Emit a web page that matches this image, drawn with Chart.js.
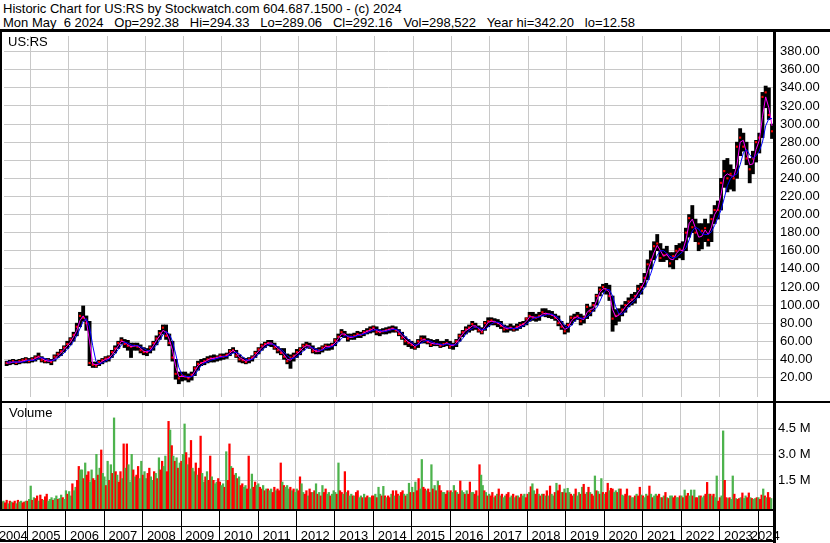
<!DOCTYPE html>
<html lang="en">
<head>
<meta charset="UTF-8" />
<title>Historic Chart for US:RS</title>
<script src="https://cdn.jsdelivr.net/npm/chart.js"></script>
<style>
  html, body { margin: 0; padding: 0; background: #fff; }
  #page {
    position: relative; width: 830px; height: 543px; overflow: hidden;
    font-family: "Liberation Sans", Arial, sans-serif; font-size: 13px; color: #000;
  }
  .txt { position: absolute; white-space: pre; line-height: 14px; }
  .rule { position: absolute; background: #000; }
  canvas { position: absolute; left: 0; }
</style>
</head>
<body>
<div id="page">
  <div class="txt" style="left:3px;top:2px">Historic Chart for US:RS by Stockwatch.com 604.687.1500 - (c) 2024</div>
  <div class="txt" style="left:3px;top:16px">Mon May  6 2024   Op=292.38   Hi=294.33   Lo=289.06   Cl=292.16   Vol=298,522   Year hi=342.20   lo=12.58</div>

  <canvas id="priceChart" width="830" height="369" style="top:32px"></canvas>
  <canvas id="volumeChart" width="830" height="140" style="top:403px"></canvas>

  <div class="txt" style="left:8px;top:35px">US:RS</div>
  <div class="txt" style="left:9px;top:406px">Volume</div>

  <!-- frame lines -->
  <div class="rule" style="left:0;top:29px;width:830px;height:3px"></div>
  <div class="rule" style="left:0;top:32px;width:2px;height:479px"></div>
  <div class="rule" style="left:0;top:401px;width:830px;height:2px"></div>
  <div class="rule" style="left:773px;top:32px;width:3px;height:511px"></div>
  <div class="rule" style="left:0;top:509px;width:776px;height:2px"></div>
  <div class="rule" style="left:0;top:526px;width:776px;height:1px"></div>
  <div class="rule" style="left:0;top:540px;width:776px;height:2px"></div>
</div>

<script>
// monthly bars, May 2004 .. May 2024
const priceLow = [
  33, 34, 35, 34, 35, 36, 36, 36, // 2004
  37, 38, 40, 37, 36, 36, 34, 38, 42, 44, 48, 52,
  56, 60, 66, 76, 82, 72, 33, 31, 31, 33, 35, 37,
  38, 42, 47, 52, 57, 53, 50, 42, 50, 50, 47, 45,
  44, 47, 50, 56, 62, 68, 62, 55, 38, 18, 13, 16,
  17, 15, 17, 22, 28, 33, 34, 36, 37, 37, 38, 39,
  40, 41, 44, 47, 42, 37, 36, 35, 36, 38, 42, 46,
  50, 53, 55, 54, 51, 47, 45, 40, 35, 30, 38, 42,
  45, 50, 53, 52, 47, 46, 46, 48, 50, 50, 51, 55,
  60, 65, 64, 60, 62, 62, 64, 64, 66, 68, 69, 70,
  67, 66, 68, 68, 69, 70, 70, 66, 62, 56, 54, 52,
  51, 53, 58, 58, 57, 54, 55, 55, 53, 54, 55, 52,
  51, 54, 60, 65, 68, 70, 72, 73, 70, 68, 72, 76,
  78, 78, 76, 74, 70, 70, 72, 71, 72, 74, 76, 78,
  82, 83, 82, 83, 88, 87, 86, 85, 83, 77, 73, 68,
  70, 78, 82, 84, 78, 80, 85, 88, 93, 100, 110, 114,
  112, 105, 71, 78, 82, 88, 92, 98, 100, 102, 108, 112,
  120, 128, 140, 150, 160, 148, 148, 150, 142, 140, 150, 152,
  150, 160, 175, 180, 170, 160, 162, 170, 165, 170, 190, 195,
  205, 230, 225, 228, 226, 240, 265, 270, 255, 235, 245, 258,
  268, 285, 318, 305, 284 // 2024
]
const priceHigh = [
  38, 39, 40, 39, 40, 41, 42, 41,
  42, 44, 47, 43, 41, 41, 40, 45, 48, 51, 55, 60,
  64, 70, 80, 92, 99, 88, 82, 37, 37, 39, 41, 43,
  44, 50, 55, 60, 64, 62, 61, 58, 58, 58, 56, 53,
  52, 55, 60, 66, 72, 78, 78, 68, 60, 40, 26, 26,
  26, 24, 26, 32, 38, 40, 41, 43, 44, 45, 44, 46,
  46, 47, 51, 53, 50, 45, 42, 41, 42, 44, 49, 53,
  57, 59, 61, 61, 58, 54, 52, 52, 46, 45, 47, 51,
  53, 57, 59, 58, 55, 52, 53, 55, 57, 57, 58, 63,
  68, 73, 71, 68, 68, 69, 71, 70, 72, 74, 76, 77,
  76, 73, 74, 75, 76, 77, 76, 73, 70, 65, 62, 60,
  58, 62, 66, 66, 63, 62, 61, 62, 60, 60, 62, 60,
  58, 62, 68, 72, 76, 78, 82, 80, 77, 75, 82, 86,
  86, 85, 84, 82, 78, 77, 79, 77, 79, 81, 82, 86,
  92, 92, 90, 92, 96, 96, 94, 93, 90, 88, 82, 78,
  80, 88, 90, 92, 90, 88, 101, 98, 103, 112, 120, 123,
  124, 122, 110, 95, 96, 100, 104, 108, 112, 114, 122, 124,
  135, 150, 160, 170, 178, 168, 162, 165, 158, 158, 166, 168,
  170, 185, 200, 210, 195, 190, 190, 195, 190, 200, 210, 215,
  240, 260, 262, 255, 250, 280, 295, 290, 280, 262, 270, 282,
  290, 335, 342, 340, 300
]
const priceClose = [
  36, 37, 38, 36, 38, 39, 40, 38,
  40, 42, 43, 39, 38, 39, 37, 43, 46, 49, 53, 57,
  62, 67, 76, 88, 86, 80, 36, 34, 33, 37, 39, 41,
  42, 48, 52, 58, 61, 57, 55, 54, 55, 54, 50, 48,
  48, 53, 58, 63, 69, 75, 66, 58, 42, 24, 19, 22,
  21, 19, 23, 30, 35, 36, 38, 40, 41, 41, 42, 44,
  43, 45, 49, 50, 44, 40, 39, 37, 40, 42, 47, 51,
  55, 57, 58, 57, 53, 50, 47, 43, 38, 42, 44, 48,
  51, 55, 56, 54, 49, 49, 50, 53, 55, 54, 56, 61,
  65, 70, 67, 63, 65, 66, 68, 67, 70, 71, 73, 75,
  70, 70, 71, 72, 73, 74, 72, 68, 64, 60, 58, 56,
  53, 60, 63, 62, 59, 56, 58, 57, 55, 57, 58, 54,
  56, 60, 66, 70, 73, 75, 79, 76, 72, 70, 80, 82,
  83, 81, 80, 77, 73, 74, 75, 73, 76, 78, 79, 85,
  88, 86, 86, 88, 92, 90, 90, 89, 86, 80, 76, 71,
  78, 86, 86, 88, 82, 86, 98, 93, 100, 110, 117, 120,
  117, 110, 85, 88, 90, 95, 100, 104, 106, 110, 118, 120,
  130, 145, 150, 165, 168, 152, 155, 156, 146, 154, 160, 162,
  160, 180, 196, 186, 180, 168, 182, 185, 172, 195, 205, 205,
  235, 248, 240, 245, 240, 275, 285, 275, 262, 250, 262, 280,
  285, 330, 335, 310, 292
]
// magenta (short) and blue (long) averages as drawn
const maShort = [
  36, 36, 37, 37, 37, 38, 39, 39,
  39, 41, 43, 41, 39, 38, 38, 40, 44, 47, 51, 55,
  59, 65, 72, 83, 88, 82, 60, 35, 34, 35, 38, 40,
  41, 45, 50, 55, 60, 59, 56, 54, 55, 55, 52, 49,
  48, 50, 55, 61, 66, 72, 70, 62, 50, 32, 21, 21,
  21, 20, 21, 27, 33, 36, 37, 39, 41, 41, 42, 43,
  43, 44, 47, 50, 47, 42, 40, 38, 39, 41, 45, 49,
  53, 56, 58, 58, 55, 52, 49, 45, 40, 39, 43, 46,
  49, 53, 55, 55, 51, 49, 49, 51, 54, 54, 55, 58,
  63, 68, 68, 65, 64, 65, 67, 67, 69, 71, 72, 74,
  72, 70, 71, 72, 73, 74, 73, 70, 66, 62, 59, 57,
  54, 57, 61, 62, 60, 58, 57, 57, 56, 56, 58, 56,
  55, 58, 63, 68, 72, 74, 77, 77, 74, 71, 76, 81,
  82, 82, 80, 78, 75, 74, 75, 74, 75, 77, 79, 82,
  87, 87, 86, 87, 90, 91, 90, 89, 87, 83, 78, 73,
  75, 82, 86, 87, 85, 84, 92, 95, 96, 105, 114, 118,
  118, 114, 95, 87, 89, 93, 98, 102, 105, 108, 114, 119,
  126, 138, 148, 158, 166, 160, 154, 156, 151, 150, 157, 161,
  160, 172, 190, 195, 185, 175, 176, 183, 178, 186, 200, 206,
  222, 242, 245, 243, 242, 255, 280, 282, 268, 255, 256, 272,
  282, 308, 330, 318, 298
]
const maLong = [
  37, 37, 37, 37, 37, 37, 38, 39,
  39, 39, 41, 42, 41, 39, 39, 39, 41, 44, 47, 51,
  55, 60, 66, 74, 82, 85, 76, 55, 38, 35, 36, 38,
  40, 42, 46, 51, 56, 59, 58, 56, 55, 55, 54, 52,
  50, 49, 52, 56, 61, 67, 71, 68, 60, 46, 31, 23,
  21, 21, 21, 23, 28, 33, 36, 37, 39, 40, 41, 42,
  43, 43, 45, 47, 48, 46, 43, 40, 39, 40, 42, 46,
  50, 53, 56, 57, 56, 54, 51, 48, 44, 41, 41, 43,
  46, 49, 52, 54, 53, 51, 50, 50, 52, 53, 54, 56,
  59, 63, 66, 66, 65, 65, 66, 67, 68, 69, 71, 72,
  73, 72, 71, 71, 72, 73, 73, 72, 69, 65, 62, 59,
  56, 56, 58, 60, 61, 60, 58, 57, 57, 56, 57, 57,
  56, 56, 59, 63, 68, 72, 74, 76, 75, 73, 73, 76,
  79, 81, 81, 80, 77, 75, 74, 74, 74, 75, 77, 79,
  82, 85, 86, 87, 88, 89, 90, 90, 88, 86, 82, 77,
  75, 77, 82, 85, 86, 85, 87, 90, 94, 97, 104, 112,
  117, 117, 110, 98, 90, 90, 93, 98, 102, 105, 109, 114,
  119, 126, 135, 146, 155, 160, 160, 157, 154, 152, 153, 156,
  159, 163, 172, 182, 186, 184, 179, 178, 178, 181, 188, 196,
  205, 218, 232, 240, 243, 245, 255, 268, 272, 266, 262, 265,
  270, 280, 298, 306, 306
]

// volume in millions, two bars per month, May 2004 .. early May 2024
const volume = [
  0.25, 0.3, 0.2, 0.35, 0.15, 0.3, 0.25, 0.2, 0.3, 0.15, 0.35, 0.25, 0.3, 0.2, 0.25, 0.3,
  0.3, 0.4, 1.17, 0.35, 0.5, 0.45, 0.6, 0.3, 0.65, 0.4, 0.35, 0.55, 0.7, 0.3, 0.4, 0.5, 0.35, 0.45, 0.6, 0.4, 0.45, 0.65, 0.5, 0.4,
  0.9, 0.7, 0.85, 0.6, 1.3, 0.9, 1.1, 1.5, 2.3, 2.1, 2.1, 1.6, 2.5, 1.8, 2.0, 1.4, 2.1, 1.6, 1.5, 3.0, 1.8, 2.2, 3.25, 1.9,
  1.7, 1.2, 2.6, 1.5, 2.4, 1.9, 5.1, 2.0, 1.8, 1.4, 2.0, 1.6, 3.6, 2.2, 3.6, 2.4, 1.4, 3.0, 2.1, 1.7, 1.8, 2.3, 1.6, 2.6,
  1.8, 2.0, 1.6, 1.9, 2.2, 1.7, 1.5, 2.0, 1.9, 1.6, 2.8, 2.1, 2.6, 2.3, 2.9, 2.0, 4.9, 4.4, 3.5, 2.9, 2.6, 2.8, 2.2, 2.5,
  2.6, 3.0, 4.75, 3.1, 2.4, 2.8, 3.8, 2.2, 2.0, 2.5, 1.8, 2.2, 4.05, 1.9, 1.4, 1.7, 2.0, 1.5, 2.9, 1.7, 1.5, 1.3, 1.4, 1.6,
  1.4, 1.2, 1.3, 1.1, 3.15, 1.5, 3.6, 2.3, 2.2, 1.8, 1.9, 1.6, 1.7, 1.2, 1.3, 1.1, 1.2, 1.0, 2.9, 1.0, 1.86, 1.1, 1.4, 1.2,
  1.3, 1.1, 1.0, 1.2, 0.9, 1.0, 1.0, 0.9, 1.0, 0.8, 1.1, 0.9, 1.0, 0.9, 2.5, 1.4, 1.2, 1.1, 1.2, 1.0, 1.1, 0.9, 1.0, 0.8,
  1.0, 0.9, 1.7, 1.3, 0.8, 0.7, 0.9, 0.6, 1.0, 0.8, 0.8, 0.9, 1.3, 0.7, 0.8, 0.6, 1.2, 0.8, 1.0, 0.7, 0.8, 0.6, 0.7, 0.9,
  0.8, 0.7, 2.5, 0.9, 0.8, 0.7, 2.0, 0.8, 0.9, 0.6, 0.7, 0.6, 0.6, 0.8, 0.9, 0.5, 0.6, 0.5, 0.7, 0.5, 0.6, 0.5, 0.5, 0.6,
  0.6, 0.7, 0.5, 1.1, 0.7, 0.6, 1.15, 0.6, 0.5, 0.6, 0.5, 0.7, 0.9, 0.6, 0.9, 0.7, 0.6, 0.8, 0.9, 0.7, 0.6, 0.7, 1.33, 0.8,
  1.1, 0.8, 1.4, 0.9, 1.6, 1.0, 2.7, 1.1, 1.0, 0.9, 1.0, 0.8, 2.4, 1.0, 1.2, 0.9, 1.46, 1.2, 0.9, 0.8, 0.8, 0.7, 0.9, 0.8,
  0.9, 0.8, 1.2, 0.9, 0.8, 0.7, 1.46, 0.9, 0.8, 0.7, 0.9, 0.7, 1.4, 0.8, 0.8, 0.7, 0.9, 0.6, 2.4, 1.8, 1.2, 0.9, 0.8, 0.6,
  0.7, 0.6, 0.8, 0.5, 0.6, 0.7, 1.0, 0.6, 0.7, 0.5, 0.6, 0.7, 0.8, 0.5, 0.6, 0.7, 0.5, 0.6, 0.6, 0.5, 0.7, 0.6, 0.7, 0.5,
  0.7, 0.8, 1.13, 1.3, 0.9, 0.7, 1.0, 0.7, 0.6, 0.7, 0.7, 0.6, 0.9, 0.6, 1.17, 0.7, 0.6, 0.8, 1.33, 0.9, 1.23, 0.8, 0.8, 1.0,
  0.77, 1.04, 0.8, 0.7, 0.6, 0.7, 1.0, 0.6, 0.8, 0.7, 1.1, 1.27, 0.7, 0.8, 1.1, 0.8, 0.7, 0.6, 1.75, 0.9, 0.85, 0.7, 1.6, 0.8,
  0.7, 0.8, 1.33, 0.9, 1.04, 1.0, 0.8, 0.9, 0.8, 1.0, 1.0, 0.65, 0.6, 0.7, 1.0, 0.6, 0.6, 0.5, 0.5, 0.6, 0.7, 0.6, 1.1, 0.65,
  0.6, 0.5, 0.7, 0.6, 1.17, 0.7, 0.5, 0.6, 0.7, 0.6, 0.7, 0.5, 0.5, 0.6, 0.8, 0.5, 0.45, 0.6, 0.6, 0.5, 0.6, 0.5, 0.5, 0.6,
  0.6, 0.5, 0.94, 0.6, 0.75, 0.6, 0.94, 0.6, 0.94, 0.5, 0.5, 0.6, 0.6, 0.5, 0.6, 0.7, 1.38, 0.7, 0.7, 0.6, 0.7, 0.5, 1.75, 0.3,
  0.5, 0.6, 4.35, 1.5, 0.5, 0.45, 0.5, 0.4, 1.75, 0.7, 0.45, 0.4, 0.45, 0.5, 0.77, 0.45, 0.6, 0.5, 0.77, 0.5, 0.45, 0.4, 0.45, 0.5,
  0.5, 0.4, 0.65, 1.0, 0.6, 0.5, 0.8, 0.5, 0.45
]
// g = up period, r = down period
const volumeDir = [
  'rgrrgrgrrgrggrrg',
  'rggrgrrgrrgrrgggrggrggrg',
  'grggrggrrggrgrrggrrgrgrg',
  'grgrgrgrgrrgrgrgggrgrrgg',
  'rggrrggrgrgrrggrrgrgrgrg',
  'rggrgrrggrgrrggrgrrgrggr',
  'rggrgrrgrrgrgrrggrrggrrg',
  'grrgrgrggrrgrrrgrgggrgrg',
  'grrggrrgrrgrgrgrgrrggrgg',
  'grgrrgrgrggrgrrggrgrrggr',
  'rgrggrgrgrrgrgrrgrrgrggr',
  'grgrrggrrgrrgrgrgrrggrrg',
  'rggrgrrggrgrrggrrgrggrgr',
  'grrgrgrgrggrrggrgrgrrggr',
  'rgrggrrgrgrgrgrggrgrrgrg',
  'rggrrgrggrgrrgrgrrgrgrgr',
  'grrgrrggrgrggrrgrggrgrrg',
  'rggrrgrggrrgrgrgrggrrggr',
  'grgrrggrgrrgrggrrgrgrggr',
  'rggrrgrggrgrrgrggrrgrggr',
  'grrgrgrrg'
].join('')

const yearLabels = [2004, 2005, 2006, 2007, 2008, 2009, 2010, 2011, 2012, 2013, 2014,
  2015, 2016, 2017, 2018, 2019, 2020, 2021, 2022, 2023, 2024]

const START = 2004 + 4 / 12 // May 2004
const X_MIN = 2004.306
const X_MAX = 2024.4
const GRID = '#c8c8c8'
const FONT = { family: '"Liberation Sans", Arial, sans-serif', size: 13 }

const monthX = i => START + (i + 0.5) / 12
const halfX = i => START + (i + 0.5) / 24

const priceBars = priceLow.map((lo, i) => ({ x: monthX(i), y: [lo, priceHigh[i]] }))
const closePts = priceClose.map((c, i) => ({ x: monthX(i), y: c }))
const shortPts = maShort.map((v, i) => ({ x: monthX(i), y: v }))
const longPts = maLong.map((v, i) => ({ x: monthX(i), y: v }))
const volPts = volume.map((v, i) => ({ x: halfX(i), y: v }))
const volColors = volume.map((v, i) => (volumeDir[i] === 'g' ? '#4db34d' : '#ff0000'))

function xScale(height) {
  return {
    type: 'linear',
    min: X_MIN,
    max: X_MAX,
    offset: false,
    ticks: { display: false, stepSize: 1, includeBounds: false },
    grid: { color: GRID, drawTicks: false, offset: false },
    border: { display: false },
    afterFit: s => {
      s.height = height
      s.paddingLeft = 0
      s.paddingRight = 0
    }
  }
}

const baseOptions = {
  responsive: false,
  animation: false,
  events: [],
  layout: { padding: 0 },
  plugins: { legend: { display: false }, tooltip: { enabled: false } }
}

// price panel
new Chart(document.getElementById('priceChart'), {
  type: 'bar',
  data: {
    datasets: [
      { type: 'line', data: longPts, borderColor: '#0000ff', borderWidth: 1, pointRadius: 0, order: 0 },
      { type: 'line', data: shortPts, borderColor: '#ff00ff', borderWidth: 1, pointRadius: 0, order: 1 },
      {
        type: 'scatter', data: closePts, backgroundColor: '#ff0000', borderWidth: 0,
        pointStyle: 'rect', pointRadius: 1.5, order: 2
      },
      {
        type: 'bar', data: priceBars, backgroundColor: '#000000',
        barPercentage: 1, categoryPercentage: 1, grouped: false, order: 3
      }
    ]
  },
  options: {
    ...baseOptions,
    scales: {
      x: xScale(0),
      y: {
        type: 'linear',
        position: 'right',
        min: -1.62,
        max: 397.3,
        ticks: {
          stepSize: 20, autoSkip: false, padding: 7, color: '#000', font: FONT,
          callback: v => v.toFixed(2)
        },
        grid: { color: GRID, drawTicks: false },
        border: { display: false },
        afterBuildTicks: s => {
          s.ticks = s.ticks.filter(t => t.value >= 20 && t.value <= 380)
        },
        afterFit: s => {
          s.width = 57
          s.paddingTop = 0
          s.paddingBottom = 0
        }
      }
    }
  }
})

// year boxes under the volume panel
const yearStrip = {
  id: 'yearStrip',
  afterDraw(chart) {
    const { ctx } = chart
    const x = chart.scales.x
    ctx.save()
    ctx.fillStyle = '#000'
    ctx.font = '13px "Liberation Sans", Arial, sans-serif'
    ctx.textAlign = 'center'
    ctx.textBaseline = 'alphabetic'
    yearLabels.forEach(year => {
      const from = Math.max(year, X_MIN)
      const to = Math.min(year + 1, X_MAX)
      const cx = (x.getPixelForValue(from) + x.getPixelForValue(to)) / 2
      ctx.fillText(String(year), cx, 137)
      if (year > X_MIN) {
        const px = Math.round(x.getPixelForValue(year))
        ctx.fillRect(px, 108, 1, 30)
      }
    })
    ctx.restore()
  }
}

// volume panel
const VOL_MIN = -0.156
new Chart(document.getElementById('volumeChart'), {
  type: 'bar',
  data: {
    datasets: [
      {
        data: volPts, backgroundColor: volColors, base: VOL_MIN,
        barPercentage: 1, categoryPercentage: 1, grouped: false
      }
    ]
  },
  options: {
    ...baseOptions,
    scales: {
      x: xScale(34),
      y: {
        type: 'linear',
        position: 'right',
        min: VOL_MIN,
        max: 5.96,
        ticks: {
          stepSize: 1.5, autoSkip: false, padding: 5, color: '#000', font: FONT,
          callback: v => v.toFixed(1) + ' M'
        },
        grid: { color: GRID, drawTicks: false },
        border: { display: false },
        afterBuildTicks: s => {
          s.ticks = s.ticks.filter(t => t.value > 1 && t.value < 5)
        },
        afterFit: s => {
          s.width = 57
          s.paddingTop = 0
          s.paddingBottom = 0
        }
      }
    }
  },
  plugins: [yearStrip]
})
</script>
</body>
</html>
